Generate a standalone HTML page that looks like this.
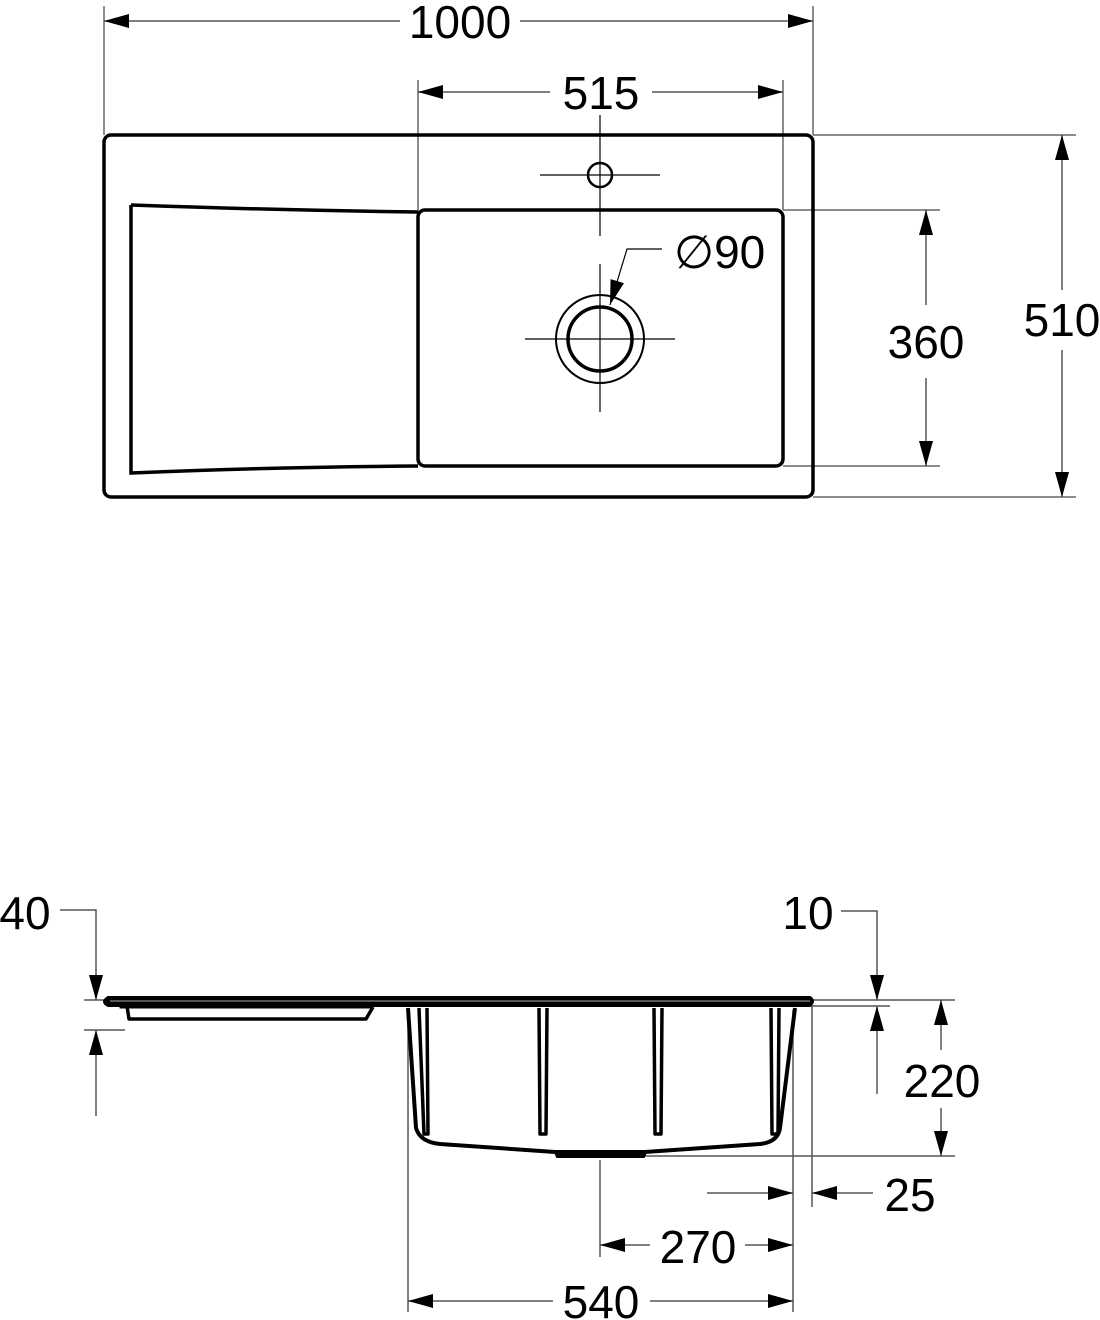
<!DOCTYPE html>
<html><head><meta charset="utf-8"><style>
html,body{margin:0;padding:0;background:#fff}
svg{display:block}
text{font-family:"Liberation Sans",sans-serif;font-size:46px;fill:#000}
</style></head><body>
<svg width="1100" height="1320" viewBox="0 0 1100 1320" xmlns="http://www.w3.org/2000/svg">
<defs>
<marker id="a" markerUnits="userSpaceOnUse" markerWidth="26" markerHeight="16" refX="25" refY="7" orient="auto-start-reverse">
<path d="M0,0 L25,7 L0,14 Z" fill="#000"/>
</marker>
</defs>
<g stroke="#666" stroke-width="1.5" fill="none">
<line x1="104" y1="6" x2="104" y2="135"/>
<line x1="813" y1="6" x2="813" y2="135"/>
<line x1="418" y1="80" x2="418" y2="212"/>
<line x1="783" y1="80" x2="783" y2="210"/>
<line x1="813" y1="135" x2="1076" y2="135"/>
<line x1="813" y1="497" x2="1076" y2="497"/>
<line x1="783" y1="210" x2="940" y2="210"/>
<line x1="783" y1="466" x2="940" y2="466"/>
</g>
<g stroke="#555" stroke-width="1.5" fill="none">
<line x1="104" y1="21" x2="400" y2="21" marker-start="url(#a)"/>
<line x1="520" y1="21" x2="813" y2="21" marker-end="url(#a)"/>
<line x1="418" y1="92" x2="550" y2="92" marker-start="url(#a)"/>
<line x1="652" y1="92" x2="783" y2="92" marker-end="url(#a)"/>
<line x1="926" y1="210" x2="926" y2="305" marker-start="url(#a)"/>
<line x1="926" y1="378" x2="926" y2="466" marker-end="url(#a)"/>
<line x1="1062" y1="135" x2="1062" y2="290" marker-start="url(#a)"/>
<line x1="1062" y1="350" x2="1062" y2="497" marker-end="url(#a)"/>
</g>
<g stroke="#000" fill="none">
<rect x="104" y="135" width="709" height="362" rx="7" stroke-width="3.5"/>
<path d="M131,205 Q270,210 418,212 M131,205 L131,473 Q270,467 418,466" stroke-width="3.5"/>
<rect x="418" y="210" width="365" height="256" rx="7" stroke-width="3.5"/>
<circle cx="600" cy="175" r="12" stroke-width="2.5"/>
<circle cx="600" cy="339" r="44" stroke-width="2"/>
<circle cx="600" cy="339" r="32" stroke-width="3.5"/>
</g>
<g stroke="#000" stroke-width="1.2" fill="none">
<line x1="600" y1="115" x2="600" y2="236"/>
<line x1="540" y1="175" x2="660" y2="175"/>
<line x1="600" y1="264" x2="600" y2="412"/>
<line x1="525" y1="339" x2="675" y2="339"/>
<polyline points="662,249 627,249 610,305" marker-end="url(#a)"/>
</g>
<text x="460" y="38" text-anchor="middle">1000</text>
<text x="601" y="109" text-anchor="middle">515</text>
<text x="926" y="358" text-anchor="middle">360</text>
<text x="1062" y="336" text-anchor="middle">510</text>
<text x="674" y="268">∅90</text>

<g stroke="#555" stroke-width="1.5" fill="none">
<polyline points="60,910 96,910 96,1000" marker-end="url(#a)"/>
<line x1="96" y1="1030" x2="96" y2="1116" marker-start="url(#a)"/>
<line x1="84" y1="1000" x2="104" y2="1000"/>
<line x1="84" y1="1030" x2="125" y2="1030"/>
<polyline points="841,911 877,911 877,1000" marker-end="url(#a)"/>
<line x1="877" y1="1006" x2="877" y2="1094" marker-start="url(#a)"/>
<line x1="813" y1="1000" x2="955" y2="1000"/>
<line x1="797" y1="1006" x2="890" y2="1006"/>
<line x1="600" y1="1156" x2="955" y2="1156"/>
<line x1="941" y1="1000" x2="941" y2="1050" marker-start="url(#a)"/>
<line x1="941" y1="1108" x2="941" y2="1156" marker-end="url(#a)"/>
<line x1="408" y1="1010" x2="408" y2="1312"/>
<line x1="600" y1="1160" x2="600" y2="1257"/>
<line x1="793" y1="1010" x2="793" y2="1312"/>
<line x1="812" y1="1006" x2="812" y2="1207"/>
<line x1="707" y1="1193" x2="793" y2="1193" marker-end="url(#a)"/>
<line x1="812" y1="1193" x2="873" y2="1193" marker-start="url(#a)"/>
<line x1="600" y1="1245" x2="650" y2="1245" marker-start="url(#a)"/>
<line x1="745" y1="1245" x2="793" y2="1245" marker-end="url(#a)"/>
<line x1="408" y1="1301" x2="553" y2="1301" marker-start="url(#a)"/>
<line x1="650" y1="1301" x2="793" y2="1301" marker-end="url(#a)"/>
</g>
<g stroke="#000" fill="none" stroke-linejoin="round">
<path d="M108,997 L810,997 Q816,1001 810,1006 L108,1006 Q100,1002 108,997Z" fill="#000" stroke-width="2"/>
<path d="M120,1006 L371,1006 L371,1008 L120,1008Z" fill="#000" stroke-width="1"/>
<line x1="110" y1="1001" x2="810" y2="1001" stroke="#aaa" stroke-width="1"/>
<polyline points="127,1006 129,1019 366,1019 373,1007" stroke-width="3.5"/>
<path d="M408,1008 L416,1128 Q420,1142 440,1144 L555,1152 L645,1152 L760,1144 Q778,1142 780,1128 L795,1008" stroke-width="4"/>
<path d="M555,1152 L557,1157 L644,1157 L646,1152Z" fill="#000" stroke-width="2"/>
<g stroke-width="3.5">
<path d="M419,1008 L424,1134 L428,1134 L427,1008"/>
<path d="M539,1008 L540,1134 L546,1134 L547,1008"/>
<path d="M654,1008 L655,1134 L661,1134 L662,1008"/>
<path d="M771,1008 L772,1134 L778,1134 L779,1008"/>
</g>
</g>
<text x="25" y="929" text-anchor="middle">40</text>
<text x="808" y="929" text-anchor="middle">10</text>
<text x="942" y="1097" text-anchor="middle">220</text>
<text x="910" y="1211" text-anchor="middle">25</text>
<text x="698" y="1263" text-anchor="middle">270</text>
<text x="601" y="1318" text-anchor="middle">540</text>
</svg>
</body></html>
